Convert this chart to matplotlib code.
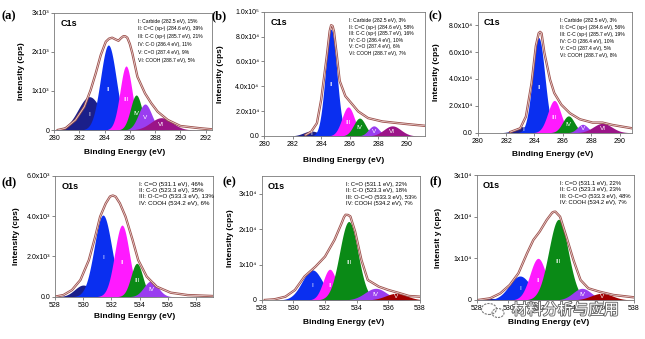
import numpy as np
import matplotlib.pyplot as plt
import matplotlib.patheffects as pe
from matplotlib.patches import Ellipse

plt.rcParams['font.family'] = ['Liberation Sans', 'DejaVu Sans']

W, H = 645, 339

NAVY = '#1b1f8a'
BLUE = '#0a2ff0'
MAGENTA = '#ff1aff'
GREEN = '#0a8a16'
PURPLE = '#9a3df0'
PLUM = '#9b1488'
DARKRED = '#a00000'

# ---------------- (a) C1s ----------------
a_center = [282.8, 284.3, 285.7, 286.5, 287.2, 288.5]
a_height = [852, 2174, 1637, 895, 665, 315]
a_sigma = [0.9, 0.62, 0.48, 0.45, 0.52, 0.85]
a_names = ['I', 'II', 'III', 'IV', 'V', 'VI']
a_colors = [NAVY, BLUE, MAGENTA, GREEN, PURPLE, PLUM]
a_env_x = [280.3, 280.9, 281.7, 282.4, 282.9, 283.3, 283.7, 284.1, 284.35, 284.6,
           284.85, 285.1, 285.3, 285.5, 285.65, 285.8, 286.0, 286.2, 286.6, 287.2,
           287.7, 288.2, 289.0, 290.0, 291.6, 292.5]
a_env_y = [0, 43, 256, 596, 1022, 1448, 1917, 2258, 2335, 2360,
           2320, 2283, 2350, 2400, 2395, 2360, 2200, 1960, 1363, 937,
           682, 469, 256, 102, 43, 17]
a_yticks = [0, 1000, 2000, 3000]
a_ylabels = ['0', '1x10³', '2x10³', '3x10³']
a_legend = ['I: Carbide (282.5 eV), 15%',
            'II: C=C (sp²) (284.6 eV), 39%',
            'III: C-C (sp³) (285.7 eV), 21%',
            'IV: C-O (286.4 eV), 11%',
            'V: C=O (287.4 eV), 9%',
            'VI: COOH (288.7 eV), 5%']

# ---------------- (b) C1s ----------------
b_center = [283.3, 284.7, 285.9, 286.7, 287.7, 289.0]
b_height = [4000, 85900, 23400, 14400, 8150, 8150]
b_sigma = [0.55, 0.4, 0.44, 0.42, 0.38, 0.6]
b_names = ['I', 'II', 'III', 'IV', 'V', 'VI']
b_colors = [NAVY, BLUE, MAGENTA, GREEN, PURPLE, PLUM]
b_env_x = [282.9, 283.3, 283.7, 284.0, 284.4, 284.6, 284.7, 284.8, 284.9, 285.1,
           285.3, 285.7, 286.2, 286.6, 287.3, 288.3, 289.2, 290.1, 291.3]
b_env_y = [800, 3500, 10300, 29300, 64700, 84500, 89100, 88500, 84000, 64700,
           44300, 32100, 25300, 19800, 14400, 11700, 10600, 9500, 8200]
b_yticks = [0, 20000, 40000, 60000, 80000, 100000]
b_ylabels = ['0.0', '2.0x10⁴', '4.0x10⁴', '6.0x10⁴', '8.0x10⁴', '1.0x10⁵']
b_legend = ['I: Carbide (282.5 eV), 3%',
            'II: C=C (sp²) (284.6 eV), 58%',
            'III: C-C (sp³) (285.7 eV), 16%',
            'IV: C-O (286.4 eV), 10%',
            'V: C=O (287.4 eV), 6%',
            'VI: COOH (288.7 eV), 7%']

# ---------------- (c) C1s ----------------
c_center = [283.2, 284.3, 285.4, 286.4, 287.4, 288.8]
c_height = [4500, 70750, 24000, 12500, 6250, 7000]
c_sigma = [0.55, 0.43, 0.46, 0.42, 0.37, 0.65]
c_names = ['I', 'II', 'III', 'IV', 'V', 'VI']
c_colors = [NAVY, BLUE, MAGENTA, GREEN, PURPLE, PLUM]
c_env_x = [282.3, 283.0, 283.4, 283.8, 284.1, 284.3, 284.4, 284.5, 284.7, 285.1,
           285.4, 285.9, 286.5, 287.2, 288.1, 288.8, 289.5, 290.9]
c_env_y = [500, 3250, 12000, 37000, 64500, 74000, 75000, 74000, 59500, 39500,
           29500, 20750, 14500, 10000, 7500, 7500, 5750, 3250]
c_yticks = [0, 20000, 40000, 60000, 80000]
c_ylabels = ['0.0', '2.0x10⁴', '4.0x10⁴', '6.0x10⁴', '8.0x10⁴']
c_legend = ['I: Carbide (282.5 eV), 3%',
            'II: C=C (sp²) (284.6 eV), 56%',
            'III: C-C (sp³) (285.7 eV), 19%',
            'IV: C-O (286.4 eV), 10%',
            'V: C=O (287.4 eV), 5%',
            'VI: COOH (288.7 eV), 8%']

# ---------------- (d) O1s ----------------
d_center = [530.0, 531.4, 532.75, 533.8, 534.8]
d_height = [580, 4060, 3560, 1660, 780]
d_sigma = [0.6, 0.62, 0.52, 0.42, 0.5]
d_names = ['', 'I', 'II', 'III', 'IV']
d_colors = [NAVY, BLUE, MAGENTA, GREEN, PURPLE]
d_env_x = [528.0, 528.6, 529.2, 529.8, 530.4, 530.85, 531.2, 531.6, 531.9, 532.1,
           532.3, 532.6, 533.0, 533.5, 533.9, 534.5, 535.2, 536.2, 537.4, 539.2]
d_env_y = [0, 83, 330, 830, 1820, 2980, 3980, 4640, 4980, 5030,
           4970, 4640, 3980, 2820, 1820, 1000, 500, 200, 80, 33]
d_yticks = [0, 2000, 4000, 6000]
d_ylabels = ['0.0', '2.0x10³', '4.0x10³', '6.0x10³']
d_legend = ['I: C=O (531.1 eV), 46%',
            'II: C-O (523.3 eV), 35%',
            'III: O-C=O (533.3 eV), 13%',
            'IV: COOH (534.2 eV), 6%']

# ---------------- (e) O1s ----------------
e_center = [531.2, 532.3, 533.5, 535.2, 536.5]
e_height = [8500, 8680, 22160, 3300, 1890]
e_sigma = [0.65, 0.42, 0.58, 0.68, 0.68]
e_names = ['I', 'II', 'III', 'IV', 'V']
e_colors = [BLUE, MAGENTA, GREEN, PURPLE, DARKRED]
e_env_x = [528.2, 528.8, 529.5, 530.1, 530.7, 531.4, 532.0, 532.6, 533.05, 533.2,
           533.3, 533.45, 533.6, 533.9, 534.3, 534.7, 535.4, 536.0, 536.6, 537.3,
           538.0]
e_env_y = [0, 190, 940, 2830, 6600, 9430, 12260, 16970, 21700, 23400,
           24050, 24000, 23600, 19330, 11300, 5660, 3770, 2830, 2070, 1130,
           940]
e_yticks = [0, 10000, 20000, 30000]
e_ylabels = ['0', '1x10⁴', '2x10⁴', '3x10⁴']
e_legend = ['I: C=O (531.1 eV), 22%',
            'II: C-O (523.3 eV), 18%',
            'III: O-C=O (533.3 eV), 53%',
            'IV: COOH (534.2 eV), 7%']

# ---------------- (f) O1s ----------------
f_center = [528.85, 530.75, 531.9, 533.2, 534.7, 535.95]
f_height = [400, 5760, 10000, 19360, 2800, 1600]
f_sigma = [0.6, 0.68, 0.52, 0.62, 0.58, 0.68]
f_names = ['', 'I', 'II', 'III', 'IV', 'V']
f_colors = [NAVY, BLUE, MAGENTA, GREEN, PURPLE, DARKRED]
f_env_x = [528.1, 528.85, 529.5, 530.1, 530.65, 531.2, 531.6, 532.0, 532.45, 532.8,
           532.9, 533.0, 533.3, 533.7, 534.15, 534.6, 535.1, 535.8, 536.7, 538.0]
f_env_y = [0, 400, 1600, 3600, 6400, 11200, 14400, 16400, 19200, 20960,
           21150, 21200, 20000, 15200, 9600, 4800, 2800, 2000, 1200, 640]
f_yticks = [0, 10000, 20000, 30000]
f_ylabels = ['0', '1x10⁴', '2x10⁴', '3x10⁴']
f_legend = ['I: C=O (531.1 eV), 22%',
            'II: C-O (523.3 eV), 23%',
            'III: O-C=O (533.3 eV), 48%',
            'IV: COOH (534.2 eV), 7%']


def gauss(x, c, h, s):
    return h * np.exp(-0.5 * ((x - c) / s) ** 2)


fig = plt.figure(figsize=(W / 100, H / 100), dpi=100)


def panel(box, xlim, xticks, ylim, yticks, ylabels, centers, heights, sigmas,
          names, colors, env_x, env_y, core, legend, leg_size, leg_space):
    l, t, r, b = box
    ax = fig.add_axes([l / W, 1 - b / H, (r - l) / W, (b - t) / H])
    x = np.linspace(xlim[0], xlim[1], 800)
    for c, h, s, n, col in zip(centers, heights, sigmas, names, colors):
        ax.fill_between(x, 0, gauss(x, c, h, s), color=col, lw=0)
        if n:
            ax.text(c, 0.48 * h, n, color='white', fontsize=4.6,
                    ha='center', va='center')
    # measured envelope and its fit drawn as a double line
    ax.plot(env_x, env_y, color='#9c4f4a', lw=1.7, solid_joinstyle='round')
    ax.plot(env_x, env_y, color='#f1dede', lw=0.5, solid_joinstyle='round')
    ax.set_xlim(*xlim)
    ax.set_ylim(*ylim)
    ax.set_xticks(xticks)
    ax.set_yticks(yticks)
    ax.set_yticklabels(ylabels)
    ax.tick_params(labelsize=5, length=2, width=0.5, pad=1.5, color='#555555')
    for sp in ax.spines.values():
        sp.set_color('#7a7a7a')
        sp.set_linewidth(0.6)
    ax.text(0.04, 0.95, core, transform=ax.transAxes, fontsize=6.5,
            fontweight='bold', ha='left', va='top')
    ax.text(0.53, 0.95, '\n'.join(legend), transform=ax.transAxes,
            fontsize=leg_size, linespacing=leg_space, ha='left', va='top')
    return ax


panel((54, 12.7, 212, 130), (280, 292.5), range(280, 293, 2), (0, 3000),
      a_yticks, a_ylabels, a_center, a_height, a_sigma, a_names, a_colors,
      a_env_x, a_env_y, 'C1s', a_legend, 3.6, 1.7)
panel((264.3, 11.7, 425, 136), (280, 291.3), range(280, 291, 2), (0, 100000),
      b_yticks, b_ylabels, b_center, b_height, b_sigma, b_names, b_colors,
      b_env_x, b_env_y, 'C1s', b_legend, 3.6, 1.4)
panel((477.7, 11.7, 632.3, 132.7), (280, 290.9), range(280, 291, 2), (0, 90000),
      c_yticks, c_ylabels, c_center, c_height, c_sigma, c_names, c_colors,
      c_env_x, c_env_y, 'C1s', c_legend, 3.6, 1.5)
panel((55, 176, 213, 296.7), (528, 539.2), range(528, 539, 2), (0, 6000),
      d_yticks, d_ylabels, d_center, d_height, d_sigma, d_names, d_colors,
      d_env_x, d_env_y, 'O1s', d_legend, 4.4, 1.3)
panel((261.7, 176, 420, 300), (528, 538), range(528, 539, 2), (0, 35000),
      e_yticks, e_ylabels, e_center, e_height, e_sigma, e_names, e_colors,
      e_env_x, e_env_y, 'O1s', e_legend, 4.2, 1.3)
panel((476.7, 175, 634, 300), (528, 538), range(528, 539, 2), (0, 30000),
      f_yticks, f_ylabels, f_center, f_height, f_sigma, f_names, f_colors,
      f_env_x, f_env_y, 'O1s', f_legend, 4.2, 1.3)

# panel letters
for lx, ly, s in [(2, 16, '(a)'), (212, 16, '(b)'), (428, 16, '(c)'),
                  (2, 182, '(d)'), (222, 182, '(e)'), (429, 181, '(f)')]:
    fig.text(lx / W, 1 - ly / H, s, fontsize=9, fontweight='bold',
             family='Liberation Serif', ha='left', va='center')

# axis titles
for lx, ly, s in [(21.7, 71, 'Intensity (cps)'), (221, 74, 'Intensity (cps)'),
                  (436.7, 72, 'Intensity (cps)'), (17, 236, 'Intensity (cps)'),
                  (230, 238, 'Intensity (cps)'), (438, 238, 'Intensit y (cps)')]:
    fig.text(lx / W, 1 - ly / H, s, fontsize=6, fontweight='bold',
             rotation=90, ha='center', va='center')

for lx, ly, s in [(125, 153, 'Binding Energy (eV)'), (344, 161, 'Binding Energy (eV)'),
                  (553, 154, 'Binding Energy (eV)'), (135, 317, 'Binding Eenrgy (eV)'),
                  (344, 323, 'Binding Energy (eV)'), (549, 323, 'Binding Energy (eV)')]:
    fig.text(lx / W, 1 - ly / H, s, fontsize=6, fontweight='bold',
             ha='center', va='center')

# account watermark: chat-bubble icon plus name
for ex, ey, ew, eh in [(489, 309, 15, 11), (498, 313, 12, 9)]:
    fig.add_artist(Ellipse((ex / W, 1 - ey / H), ew / W, eh / H,
                           transform=fig.transFigure, fill=False,
                           edgecolor='#7a7a7a', lw=0.8, ls=(0, (2, 1))))
fig.text(512 / W, 1 - 310 / H, '材料分析与应用', fontsize=11,
         family=['Noto Sans CJK SC', 'DejaVu Sans'], color='white',
         ha='left', va='center',
         path_effects=[pe.withStroke(linewidth=1.3, foreground='#6a6a6a')])

fig.savefig('out.png', dpi=100)
